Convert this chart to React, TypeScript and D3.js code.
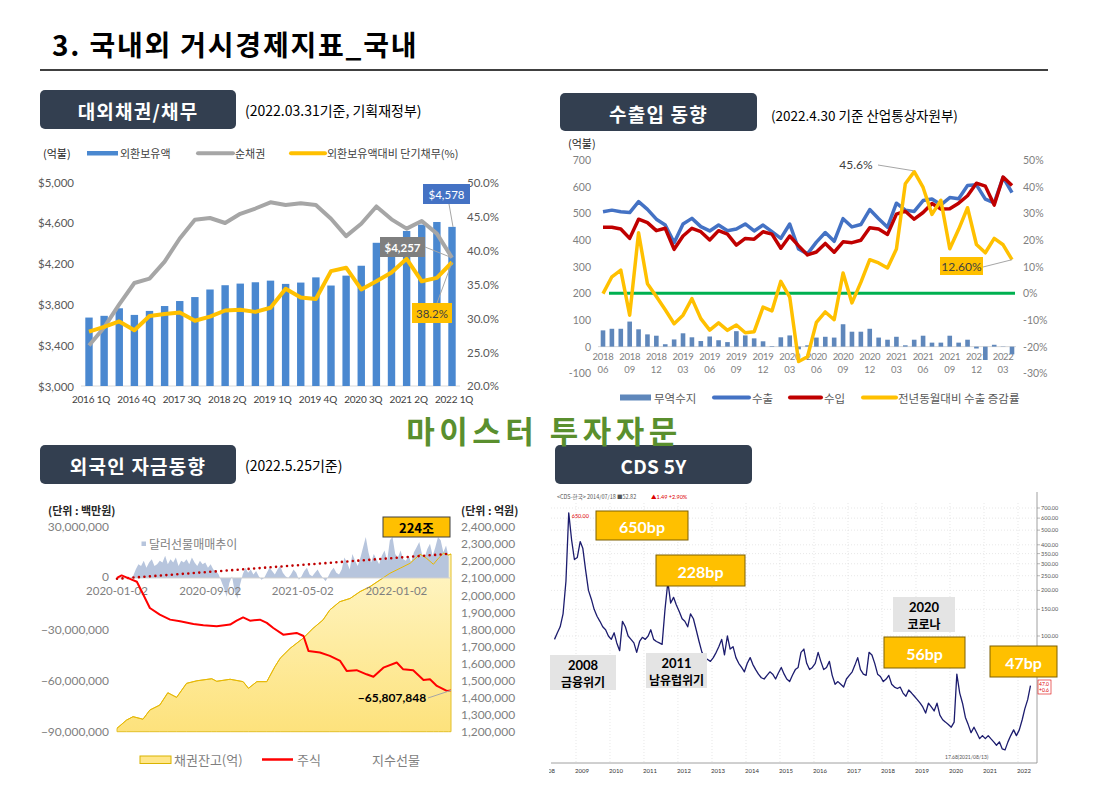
import React from 'react';
import * as d3 from 'd3';

const KR = "'Noto Sans CJK KR', 'Noto Sans', sans-serif";
const NUM = "Lato, 'Noto Sans', 'Noto Sans CJK KR', sans-serif";
const parse = d3.timeParse('%Y-%m-%d');

// ---------------- Panel 1: 대외채권/채무 ----------------
const quarters = ['2016 1Q','2016 2Q','2016 3Q','2016 4Q','2017 1Q','2017 2Q','2017 3Q','2017 4Q','2018 1Q','2018 2Q','2018 3Q','2018 4Q','2019 1Q','2019 2Q','2019 3Q','2019 4Q','2020 1Q','2020 2Q','2020 3Q','2020 4Q','2021 1Q','2021 2Q','2021 3Q','2021 4Q','2022 1Q'];
const fxReserves = [3671, 3688, 3762, 3697, 3736, 3784, 3833, 3872, 3946, 3988, 4004, 4017, 4033, 4001, 4014, 4065, 3985, 4082, 4179, 4404, 4450, 4520, 4582, 4608, 4560];
const netClaims = [3397, 3574, 3801, 4010, 4052, 4220, 4446, 4630, 4647, 4598, 4688, 4740, 4801, 4775, 4791, 4775, 4640, 4469, 4591, 4760, 4634, 4543, 4617, 4494, 4257];
const shortDebtRatio = [28.0, 28.7, 29.5, 28.2, 30.3, 30.6, 30.8, 29.6, 30.2, 31.1, 31.2, 30.9, 31.5, 34.3, 33.0, 32.8, 36.9, 37.4, 34.2, 35.4, 36.7, 38.7, 35.4, 35.9, 38.2];
const p1LeftTicks = [3000, 3400, 3800, 4200, 4600, 5000];
const p1RightTicks = [20, 25, 30, 35, 40, 45, 50];

// ---------------- Panel 2: 수출입 동향 ----------------
const tradeBalance = [61, 67, 67, 94, 65, 46, 41, 9, 27, 50, 35, 21, 38, 24, 17, 58, 42, 31, 20, 2, 35, 42, -10, 5, 34, 37, 34, 84, 56, 56, 67, 34, 26, 37, 5, 26, 41, 15, 15, 41, 15, 26, -7, -50, 7, -1, -29];
const exportsArr = [506, 512, 506, 503, 544, 515, 478, 456, 390, 460, 481, 450, 434, 456, 435, 441, 460, 434, 456, 431, 406, 460, 366, 348, 392, 428, 395, 480, 449, 458, 514, 480, 448, 538, 512, 507, 548, 554, 532, 559, 555, 604, 607, 553, 539, 635, 578];
const importsArr = [448, 448, 441, 406, 478, 465, 435, 444, 365, 415, 444, 431, 400, 435, 422, 381, 406, 403, 431, 422, 369, 415, 378, 344, 355, 387, 354, 393, 390, 399, 446, 441, 421, 497, 508, 478, 503, 537, 516, 517, 538, 566, 613, 602, 531, 636, 604];
const exportYoY = [-0.1, 6.2, 8.7, -8.2, 22.7, 3.6, -1.2, -6.2, -11.4, -8.2, -2.0, -9.5, -13.8, -11.1, -13.9, -11.9, -14.8, -14.4, -5.2, -6.6, 4.5, -1.4, -25.6, -23.8, -10.9, -7.0, -9.9, 7.6, -3.6, 4.1, 12.6, 11.4, 9.5, 16.6, 41.1, 45.6, 39.7, 29.6, 34.9, 16.7, 24.0, 32.1, 18.3, 15.2, 20.6, 18.2, 12.6];
const p2LeftTicks = [-100, 0, 100, 200, 300, 400, 500, 600, 700];
const p2RightTicks = [-30, -20, -10, 0, 10, 20, 30, 40, 50];

// ---------------- Panel 3: 외국인 자금동향 ----------------
const bondBalance: [string, number][] = [
  ['2020-01-02', 1220000], ['2020-01-27', 1268000], ['2020-02-13', 1288000], ['2020-03-10', 1273000],
  ['2020-03-28', 1327000], ['2020-04-23', 1356000], ['2020-05-14', 1428000], ['2020-06-06', 1401000],
  ['2020-07-02', 1483000], ['2020-07-29', 1498000], ['2020-09-06', 1510000], ['2020-09-19', 1495000],
  ['2020-10-24', 1507000], ['2020-11-27', 1493000], ['2020-12-11', 1454000], ['2021-01-02', 1493000],
  ['2021-01-28', 1493000], ['2021-02-18', 1580000], ['2021-03-04', 1630000], ['2021-03-30', 1688000],
  ['2021-05-03', 1747000], ['2021-05-29', 1805000], ['2021-06-24', 1854000], ['2021-07-12', 1913000],
  ['2021-08-07', 1961000], ['2021-09-03', 1980000], ['2021-09-29', 2020000], ['2021-10-25', 2049000],
  ['2021-11-20', 2088000], ['2021-12-16', 2127000], ['2022-01-12', 2157000], ['2022-02-07', 2186000],
  ['2022-03-05', 2239000], ['2022-03-22', 2215000], ['2022-04-09', 2180000], ['2022-04-22', 2215000],
  ['2022-05-05', 2244000], ['2022-05-18', 2234000], ['2022-05-25', 2240000],
];
const stockFlow: [string, number][] = [
  ['2020-01-02', 0], ['2020-01-14', 1500000], ['2020-02-05', -500000], ['2020-02-23', -2200000],
  ['2020-03-11', -9800000], ['2020-03-28', -17600000], ['2020-04-23', -21500000], ['2020-05-20', -24400000],
  ['2020-06-15', -25400000], ['2020-07-20', -26900000], ['2020-08-15', -27700000], ['2020-09-19', -28300000],
  ['2020-10-24', -27300000], ['2020-11-10', -25000000], ['2020-11-27', -23100000], ['2020-12-15', -25000000],
  ['2021-01-10', -24400000], ['2021-01-28', -26300000], ['2021-02-14', -29300000], ['2021-03-12', -33200000],
  ['2021-04-16', -32200000], ['2021-05-04', -34000000], ['2021-05-17', -42700000], ['2021-06-16', -43600000],
  ['2021-07-12', -45600000], ['2021-08-08', -48600000], ['2021-08-25', -54400000], ['2021-09-20', -54000000],
  ['2021-10-16', -56400000], ['2021-11-03', -57800000], ['2021-11-29', -52500000], ['2022-01-03', -49500000],
  ['2022-01-20', -53500000], ['2022-02-15', -54000000], ['2022-03-14', -59700000], ['2022-03-31', -59300000],
  ['2022-04-18', -63200000], ['2022-05-14', -66100000], ['2022-05-25', -65807848],
];
// 달러선물 weekly net (백만원, in millions), weeks starting 2020-01-02
const dollarFuturesStart = '2020-01-02';
const dollarFuturesMn = [
  0, 0, 0, 0, 0, 0, 1,
  5, 8, 7, 10, 6, 9, 11, 7, 8, 10, 9, 13, 8, 11, 9, 12, 7, 10, 9, 11, 8, 12, 9, 7, 10, 8, 9, 6, 8, 5, 4, 2,
  -2, -6, -11, -3, 1, -8, -12, -4, 2,
  6, 3, 5, 2, 4, 1, -1, 0, 3, 6, 4, 2, 5, 7, 3, 1, 0, 2, 5, 3, -1, 1, 4, 6, 2, 1, 3, 5, 2, 0, -2, 1, 4, 6, 3, 2, 5,
  12, 9, 5, 14, 10, 7, 12, 18, 24, 15, 9, 14, 11, 8, 13, 16, 10, 22, 24, 14, 12, 16, 11, 10, 13, 9, 15, 18, 21, 14, 12, 17, 20, 13, 18, 24, 22, 15, 19, 12,
];
const dollarTrend: [string, number][] = [['2020-01-02', -500000], ['2022-05-25', 14200000]];
const p3LeftTicks = [30000000, 0, -30000000, -60000000, -90000000];
const p3RightTicks = [2400000, 2300000, 2200000, 2100000, 2000000, 1900000, 1800000, 1700000, 1600000, 1500000, 1400000, 1300000, 1200000];
const p3DateTicks = ['2020-01-02', '2020-09-02', '2021-05-02', '2022-01-02'];

// ---------------- Panel 4: CDS 5Y ----------------
const cdsStart = '2008-05-15';
const cdsMonthly = [
  95, 105, 115, 140, 230, 650, 430, 320,
  330, 420, 380, 270, 200, 175, 150, 135, 125, 115, 110, 100,
  95, 105, 90, 80, 125, 115, 100, 95, 90, 78, 92, 98,
  95, 100, 110, 95, 92, 90, 88, 150, 228, 165, 180, 160,
  145, 130, 125, 115, 140, 130, 110, 92, 78, 72, 70, 68,
  72, 78, 85, 95, 75, 100, 82, 85, 72, 66, 62, 58,
  66, 72, 65, 60, 56, 53, 52, 55, 58, 56, 52, 57,
  62, 56, 52, 50, 55, 60, 62, 78, 82, 66, 60, 62,
  66, 78, 68, 60, 62, 68, 55, 48, 50, 48, 46, 52,
  55, 58, 64, 72, 60, 56, 55, 78, 75, 66, 56, 54,
  50, 52, 55, 48, 46, 45, 46, 42, 40, 44, 42, 40,
  38, 36, 34, 31, 36, 34, 32, 36, 30, 28, 27, 26,
  25, 27, 56, 42, 36, 29, 26, 23, 25, 23, 21, 22,
  21, 22, 21, 20, 19, 20, 18, 17.7, 20, 22, 24, 22,
  24, 28, 33, 38, 47,
];
const cdsTicks = [700, 600, 500, 400, 350, 300, 250, 200, 150, 100];
const cdsYears = [2008, 2009, 2010, 2011, 2012, 2013, 2014, 2015, 2016, 2017, 2018, 2019, 2020, 2021, 2022];

function Header({ x, y, w, h, label, ls = 1.2 }: any) {
  return (
    <g>
      <rect x={x} y={y} width={w} height={h} rx={5} fill="#333f50" />
      <text x={x + w / 2} y={y + h / 2 + 1} textAnchor="middle" dominantBaseline="central" fill="#fff" fontSize={19} fontWeight={700} letterSpacing={ls} fontFamily={KR}>{label}</text>
    </g>
  );
}

function Panel1() {
  const x = d3.scalePoint<string>().domain(quarters).range([89, 452]);
  const y = d3.scaleLinear().domain([3000, 5000]).range([386, 182]);
  const y2 = d3.scaleLinear().domain([20, 50]).range([386, 182]);
  const netLine = d3.line<number>().x((_, i) => x(quarters[i])!).y(d => y(d));
  const ratioLine = d3.line<number>().x((_, i) => x(quarters[i])!).y(d => y2(d));
  const bw = 7.4;
  const last = quarters.length - 1;
  const lx = x(quarters[last])!;
  const fmt = d3.format('$,');
  return (
    <g>
      {/* legend */}
      <text x={43} y={153} dominantBaseline="central" fontSize={11} fontFamily={KR} fill="#262626">(억불)</text>
      <rect x={87} y={151} width={31} height={4.5} fill="#4a88d0" />
      <text x={120} y={153} dominantBaseline="central" fontSize={11} fontFamily={KR} fill="#404040">외환보유액</text>
      <line x1={198} x2={233} y1={153.3} y2={153.3} stroke="#a6a6a6" strokeWidth={4} strokeLinecap="round" />
      <text x={235} y={153} dominantBaseline="central" fontSize={11} fontFamily={KR} fill="#404040">순채권</text>
      <line x1={291} x2={325} y1={153.3} y2={153.3} stroke="#ffc000" strokeWidth={4} strokeLinecap="round" />
      <text x={327} y={153} dominantBaseline="central" fontSize={11} fontFamily={KR} fill="#404040">외환보유액대비 단기채무(%)</text>
      {/* axes */}
      {p1LeftTicks.map(t => (
        <text key={t} x={74} y={y(t)} textAnchor="end" dominantBaseline="central" fontSize={11.5} fontFamily={NUM} fill="#595959">{fmt(t)}</text>
      ))}
      {p1RightTicks.map(t => (
        <text key={t} x={467} y={y2(t) - (t === 20 ? 1 : 0)} dominantBaseline="central" fontSize={11.5} fontFamily={NUM} fill="#595959">{t.toFixed(1)}%</text>
      ))}
      <line x1={81} x2={460} y1={386} y2={386} stroke="#d9d9d9" />
      {quarters.map((q, i) => i % 3 === 0 ? (
        <text key={q} x={x(q)! + 2} y={398.5} textAnchor="middle" dominantBaseline="central" fontSize={10} letterSpacing={-0.2} fontFamily={NUM} fill="#404040">{q}</text>
      ) : null)}
      {/* bars */}
      {fxReserves.map((v, i) => (
        <rect key={i} x={x(quarters[i])! - bw / 2} y={y(v)} width={bw} height={y(3000) - y(v)} fill="#4a88d0" />
      ))}
      <path d={netLine(netClaims)!} fill="none" stroke="#a6a6a6" strokeWidth={4} strokeLinejoin="round" />
      <path d={ratioLine(shortDebtRatio)!} fill="none" stroke="#ffc000" strokeWidth={4} strokeLinejoin="round" />
      {/* annotations */}
      <line x1={449} y1={204} x2={lx + 1} y2={y(fxReserves[last])} stroke="#a6a6a6" strokeWidth={1} />
      <rect x={423} y={184} width={47} height={20} fill="#4472c4" />
      <text x={446.5} y={194.5} textAnchor="middle" dominantBaseline="central" fontSize={11.5} fontFamily={NUM} fill="#fff">$4,578</text>
      <line x1={425} y1={247} x2={lx} y2={y(netClaims[last])} stroke="#a6a6a6" strokeWidth={1} />
      <rect x={380} y={237} width={45} height={20} fill="#7f7f7f" />
      <text x={402.5} y={247.5} textAnchor="middle" dominantBaseline="central" fontSize={11.5} fontWeight={700} fontFamily={NUM} fill="#fff">$4,257</text>
      <line x1={437} y1={303} x2={lx} y2={y2(shortDebtRatio[last])} stroke="#a6a6a6" strokeWidth={1} />
      <rect x={412} y={303} width={40} height={20} fill="#ffc000" />
      <text x={432} y={313.5} textAnchor="middle" dominantBaseline="central" fontSize={11.5} fontFamily={NUM} fill="#404040">38.2%</text>
    </g>
  );
}

function Panel2() {
  const months = d3.timeMonths(new Date(2018, 5, 1), new Date(2022, 4, 1));
  const keys = months.map(m => d3.timeFormat('%Y-%m')(m));
  const x = d3.scalePoint<string>().domain(keys).range([603, 1012]);
  const y = d3.scaleLinear().domain([-100, 700]).range([373.3, 160]);
  const y2 = d3.scaleLinear().domain([-30, 50]).range([373.3, 160]);
  const l1 = d3.line<number>().x((_, i) => x(keys[i])!).y(d => y(d));
  const l2 = d3.line<number>().x((_, i) => x(keys[i])!).y(d => y2(d));
  const bw = 4.6;
  const last = keys.length - 1;
  const ix35 = 35;
  return (
    <g>
      <text x={568} y={143} dominantBaseline="central" fontSize={11} fontFamily={KR} fill="#262626">(억불)</text>
      {p2LeftTicks.map(t => (
        <text key={t} x={591} y={y(t)} textAnchor="end" dominantBaseline="central" fontSize={10.5} fontFamily={NUM} fill="#7f7f7f">{t}</text>
      ))}
      {p2RightTicks.map(t => (
        <text key={t} x={1023} y={y2(t)} dominantBaseline="central" fontSize={10.5} fontFamily={NUM} fill="#7f7f7f">{t}%</text>
      ))}
      <line x1={598} x2={1016} y1={y(0)} y2={y(0)} stroke="#d9d9d9" />
      {keys.map((k, i) => i % 3 === 0 ? (
        <g key={k}>
          <text x={x(k)} y={356.5} textAnchor="middle" dominantBaseline="central" fontSize={9.5} letterSpacing={-0.3} fontFamily={NUM} fill="#7f7f7f">{k.slice(0, 4)}</text>
          <text x={x(k)} y={369} textAnchor="middle" dominantBaseline="central" fontSize={9.5} fontFamily={NUM} fill="#7f7f7f">{k.slice(5)}</text>
        </g>
      ) : null)}
      {tradeBalance.map((v, i) => (
        <rect key={i} x={x(keys[i])! - bw / 2} y={Math.min(y(v), y(0))} width={bw} height={Math.abs(y(v) - y(0))} fill="#5f87bb" />
      ))}
      <line x1={609} x2={1015} y1={y2(0)} y2={y2(0)} stroke="#00b050" strokeWidth={3} />
      <path d={l1(exportsArr)!} fill="none" stroke="#4472c4" strokeWidth={3.5} strokeLinejoin="round" />
      <path d={l1(importsArr)!} fill="none" stroke="#c00000" strokeWidth={3.5} strokeLinejoin="round" />
      <path d={l2(exportYoY)!} fill="none" stroke="#ffc000" strokeWidth={3.5} strokeLinejoin="round" />
      {/* annotations */}
      <text x={856} y={164} textAnchor="middle" dominantBaseline="central" fontSize={12} fontFamily={NUM} fill="#404040">45.6%</text>
      <line x1={878} y1={165} x2={x(keys[ix35])! - 1} y2={y2(exportYoY[ix35]) - 1} stroke="#a6a6a6" strokeWidth={1} />
      <line x1={983} y1={267} x2={x(keys[last])} y2={y2(exportYoY[last])} stroke="#a6a6a6" strokeWidth={1} />
      <rect x={940} y={257} width={43} height={18} fill="#ffc000" />
      <text x={961.5} y={266.5} textAnchor="middle" dominantBaseline="central" fontSize={12} fontFamily={NUM} fill="#404040">12.60%</text>
      {/* legend */}
      <rect x={620} y={394.5} width={31} height={6} fill="#5f87bb" />
      <text x={654} y={397.5} dominantBaseline="central" fontSize={11.5} fontFamily={KR} fill="#595959">무역수지</text>
      <line x1={714} x2={749} y1={397.5} y2={397.5} stroke="#4472c4" strokeWidth={4} strokeLinecap="round" />
      <text x={752} y={397.5} dominantBaseline="central" fontSize={11.5} fontFamily={KR} fill="#595959">수출</text>
      <line x1={790} x2={821} y1={397.5} y2={397.5} stroke="#c00000" strokeWidth={4} strokeLinecap="round" />
      <text x={824} y={397.5} dominantBaseline="central" fontSize={11.5} fontFamily={KR} fill="#595959">수입</text>
      <line x1={863} x2={896} y1={397.5} y2={397.5} stroke="#ffc000" strokeWidth={4} strokeLinecap="round" />
      <text x={898} y={397.5} dominantBaseline="central" fontSize={11.5} fontFamily={KR} fill="#595959">전년동월대비 수출 증감률</text>
    </g>
  );
}

function Panel3() {
  const x = d3.scaleTime().domain([parse('2020-01-02')!, parse('2022-05-25')!]).range([117, 451]);
  const yL = d3.scaleLinear().domain([-90e6, 30e6]).range([731.7, 526.7]);
  const yR = d3.scaleLinear().domain([1.2e6, 2.4e6]).range([731.7, 526.7]);
  type P = { t: Date; v: number };
  const bond: P[] = bondBalance.map(([d, v]) => ({ t: parse(d)!, v }));
  const stock: P[] = stockFlow.map(([d, v]) => ({ t: parse(d)!, v }));
  const dStart = parse(dollarFuturesStart)!;
  const dollar: P[] = dollarFuturesMn.map((v, i) => ({ t: d3.timeDay.offset(dStart, 7 * i), v: v * 1e6 }));
  const trend: P[] = dollarTrend.map(([d, v]) => ({ t: parse(d)!, v }));
  const bondArea = d3.area<P>().x(d => x(d.t)).y0(yR(1.2e6)).y1(d => yR(d.v));
  const bondLine = d3.line<P>().x(d => x(d.t)).y(d => yR(d.v));
  const dollarArea = d3.area<P>().x(d => x(d.t)).y0(yL(0)).y1(d => yL(d.v));
  const lineL = d3.line<P>().x(d => x(d.t)).y(d => yL(d.v));
  const fmt = d3.format(',');
  const lastStock = stock[stock.length - 1];
  return (
    <g>
      <defs>
        <linearGradient id="bondGrad" x1="0" y1="0" x2="0" y2="1">
          <stop offset="0%" stopColor="#fff6c8" />
          <stop offset="100%" stopColor="#fde27c" />
        </linearGradient>
        <clipPath id="p3clip"><rect x={117} y={500} width={334} height={240} /></clipPath>
      </defs>
      <text x={48} y={510} dominantBaseline="central" fontSize={11} fontWeight={700} fontFamily={KR} fill="#262626">(단위 : 백만원)</text>
      <text x={461} y={510} dominantBaseline="central" fontSize={11} fontWeight={700} fontFamily={KR} fill="#262626">(단위 : 억원)</text>
      {p3LeftTicks.map(t => (
        <text key={t} x={109} y={yL(t) - (t === 0 ? 1 : 0)} textAnchor="end" dominantBaseline="central" fontSize={12} fontFamily={NUM} fill="#7f7f7f">{fmt(t)}</text>
      ))}
      {p3RightTicks.map(t => (
        <text key={t} x={461} y={yR(t)} dominantBaseline="central" fontSize={12} fontFamily={NUM} fill="#7f7f7f">{fmt(t)}</text>
      ))}
      <path d={bondArea(bond)!} fill="url(#bondGrad)" stroke="#e3c02a" strokeWidth={1} />
      <g clipPath="url(#p3clip)">
        <path d={dollarArea(dollar)!} fill="#b7c5dd" />
      </g>
      <path d={bondLine(bond)!} fill="none" stroke="#e8b800" strokeWidth={1} />
      <line x1={117} x2={451} y1={yL(0)} y2={yL(0)} stroke="#d0d0d0" strokeWidth={1} />
      {p3DateTicks.map(d => (
        <text key={d} x={x(parse(d)!)} y={590} textAnchor="middle" dominantBaseline="central" fontSize={11.5} fontFamily={NUM} fill="#7f7f7f">{d}</text>
      ))}
      <path d={lineL(trend)!} fill="none" stroke="#c00000" strokeWidth={2.6} strokeDasharray="0,5.5" strokeLinecap="round" />
      <path d={lineL(stock)!} fill="none" stroke="#ff0000" strokeWidth={2} strokeLinejoin="round" />
      <rect x={141.5} y={541.5} width={4.5} height={4.5} fill="#b7c5dd" />
      <text x={149} y={543.5} dominantBaseline="central" fontSize={12} fontFamily={KR} fill="#7f7f7f">달러선물매매추이</text>
      {/* annotations */}
      <rect x={383} y={517} width={67} height={20} fill="#ffc000" stroke="#404040" strokeWidth={1} />
      <text x={416.5} y={527.5} textAnchor="middle" dominantBaseline="central" fontSize={13} fontWeight={700} fontFamily={KR} fill="#000">224조</text>
      <text x={392} y={697.5} textAnchor="middle" dominantBaseline="central" fontSize={12} fontWeight={700} fontFamily={NUM} fill="#000">{fmt(lastStock.v)}</text>
      <line x1={428} y1={698} x2={x(lastStock.t)} y2={yL(lastStock.v)} stroke="#a6a6a6" strokeWidth={1} />
      {/* legend */}
      <rect x={140} y={756} width={31} height={7.5} fill="#ffe68a" stroke="#d9b300" strokeWidth={1} />
      <text x={174} y={759.5} dominantBaseline="central" fontSize={13} fontFamily={KR} fill="#7f7f7f">채권잔고(억)</text>
      <line x1={262} x2={293} y1={759.5} y2={759.5} stroke="#ff0000" strokeWidth={2.5} />
      <text x={297} y={759.5} dominantBaseline="central" fontSize={13} fontFamily={KR} fill="#7f7f7f">주식</text>
      <text x={372} y={759.5} dominantBaseline="central" fontSize={13} fontFamily={KR} fill="#7f7f7f">지수선물</text>
    </g>
  );
}

function Panel4() {
  const x = d3.scaleTime().domain([new Date(2009, 0, 1), new Date(2022, 0, 1)]).range([576, 1018]);
  const y = d3.scaleLog().domain([100, 700]).range([636, 508]);
  type P = { t: Date; v: number };
  const start = parse(cdsStart)!;
  const pts: P[] = cdsMonthly.map((v, i) => ({ t: d3.timeMonth.offset(start, i), v }));
  const line = d3.line<P>().x(d => x(d.t)).y(d => y(d.v));
  const peak = pts.reduce((a, b) => (b.v > a.v ? b : a));
  const minP = pts.reduce((a, b) => (b.v < a.v ? b : a));
  const lastP = pts[pts.length - 1];
  const box = (bx: number, by: number, w: number, h: number, label: string) => (
    <g>
      <rect x={bx} y={by} width={w} height={h} fill="#ffc000" stroke="#7f6000" strokeWidth={1} />
      <text x={bx + w / 2} y={by + h / 2 + 0.5} textAnchor="middle" dominantBaseline="central" fontSize={16} fontWeight={700} fontFamily={NUM} fill="#fff">{label}</text>
    </g>
  );
  const gbox = (bx: number, by: number, w: number, h: number, l1: string, l2: string) => (
    <g>
      <rect x={bx} y={by} width={w} height={h} fill="#e4e4e4" />
      <text x={bx + w / 2} y={by + h / 2 - 8} textAnchor="middle" dominantBaseline="central" fontSize={13} fontWeight={700} fontFamily={NUM} fill="#000">{l1}</text>
      <text x={bx + w / 2} y={by + h / 2 + 9} textAnchor="middle" dominantBaseline="central" fontSize={12} fontWeight={700} fontFamily={KR} fill="#000">{l2}</text>
    </g>
  );
  return (
    <g>
      <defs>
        <clipPath id="p4clip"><rect x={549} y={488} width={512} height={290} /></clipPath>
      </defs>
      <g clipPath="url(#p4clip)">
        {cdsYears.map(yr => (
          <line key={yr} x1={x(new Date(yr, 0, 1))} x2={x(new Date(yr, 0, 1))} y1={503} y2={763} stroke="#d6d6d6" strokeWidth={0.6} strokeDasharray="1,2" />
        ))}
        {cdsTicks.map(t => (
          <line key={t} x1={551} x2={1037} y1={y(t)} y2={y(t)} stroke="#d6d6d6" strokeWidth={0.6} strokeDasharray="1,2" />
        ))}
        <text x={557} y={497} dominantBaseline="central" fontSize={5.5} fontFamily={KR} fill="#555">{'<CDS-한국> 2014/07/18 ■52.82'}</text>
        <text x={651} y={497} dominantBaseline="central" fontSize={5.5} fontFamily={NUM} fill="#d00">▲1.49 +2.90%</text>
        <line x1={551} x2={1037} y1={763} y2={763} stroke="#888" strokeWidth={0.8} />
        <line x1={1037} x2={1037} y1={492} y2={763} stroke="#888" strokeWidth={0.8} />
        {cdsYears.map(yr => (
          <text key={yr} x={x(new Date(yr, 0, 1)) + 6} y={770} textAnchor="middle" dominantBaseline="central" fontSize={6} fontFamily={NUM} fill="#333">{yr}</text>
        ))}
        {cdsTicks.map(t => (
          <g key={t}>
            <line x1={1037} x2={1040} y1={y(t)} y2={y(t)} stroke="#888" strokeWidth={0.6} />
            <text x={1041} y={y(t)} dominantBaseline="central" fontSize={5.5} fontFamily={NUM} fill="#555">{t.toFixed(2)}</text>
          </g>
        ))}
        <path d={line(pts)!} fill="none" stroke="#1c1c6e" strokeWidth={1.3} strokeLinejoin="round" />
        <text x={x(peak.t) + 3} y={y(peak.v) + 3} dominantBaseline="central" fontSize={5.5} fontFamily={NUM} fill="#d00">{peak.v.toFixed(2)}</text>
        <text x={x(minP.t) - 60} y={y(minP.v) + 7} dominantBaseline="central" fontSize={5} fontFamily={NUM} fill="#555">17.68(2021/08/13)</text>
        <rect x={1038} y={680} width={13} height={14} fill="#fff" stroke="#d00" strokeWidth={0.6} />
        <text x={1039} y={684} dominantBaseline="central" fontSize={5} fontFamily={NUM} fill="#d00">{lastP.v.toFixed(1)}</text>
        <text x={1039} y={690} dominantBaseline="central" fontSize={5} fontFamily={NUM} fill="#d00">+0.6</text>
      </g>
      {box(596, 511, 92, 29, '650bp')}
      {box(656, 555, 89, 31, '228bp')}
      {gbox(550, 655, 66, 35, '2008', '금융위기')}
      {gbox(646, 653, 61, 35, '2011', '남유럽위기')}
      {gbox(893, 597, 62, 35, '2020', '코로나')}
      {box(884, 637, 81, 31, '56bp')}
      {box(990, 646, 67, 31, '47bp')}
    </g>
  );
}

export default function App() {
  return (
    <svg width={1109} height={797} viewBox="0 0 1109 797" style={{ position: 'absolute', left: 0, top: 0, display: 'block', background: '#fff' }}>
      <rect x={0} y={0} width={1109} height={797} fill="#fff" />
      <text x={52} y={44} dominantBaseline="central" fontSize={28} fontWeight={700} letterSpacing={1.8} fontFamily={KR} fill="#000">3. 국내외 거시경제지표_국내</text>
      <line x1={40} x2={1048} y1={70} y2={70} stroke="#000" strokeWidth={1.5} />

      <Header x={40} y={90} w={196} h={39} label="대외채권/채무" />
      <text x={245} y={110} dominantBaseline="central" fontSize={14} fontFamily={KR} fill="#000">(2022.03.31기준, 기획재정부)</text>
      <Header x={560} y={93} w={197} h={38} label="수출입 동향" />
      <text x={771} y={115} dominantBaseline="central" fontSize={13.5} fontFamily={KR} fill="#000">(2022.4.30 기준 산업통상자원부)</text>
      <Header x={40} y={445} w={196} h={39} label="외국인 자금동향" />
      <text x={245} y={465} dominantBaseline="central" fontSize={14} fontFamily={KR} fill="#000">(2022.5.25기준)</text>
      <Header x={555} y={445} w={197} h={39} label="CDS 5Y" ls={0.3} />

      <Panel1 />
      <Panel2 />
      <Panel3 />
      <Panel4 />

      <text x={544} y={429} textAnchor="middle" dominantBaseline="central" fontSize={31} fontWeight={700} letterSpacing={4.5} fontFamily={KR} fill="#5a8f2e">마이스터 투자자문</text>
    </svg>
  );
}
